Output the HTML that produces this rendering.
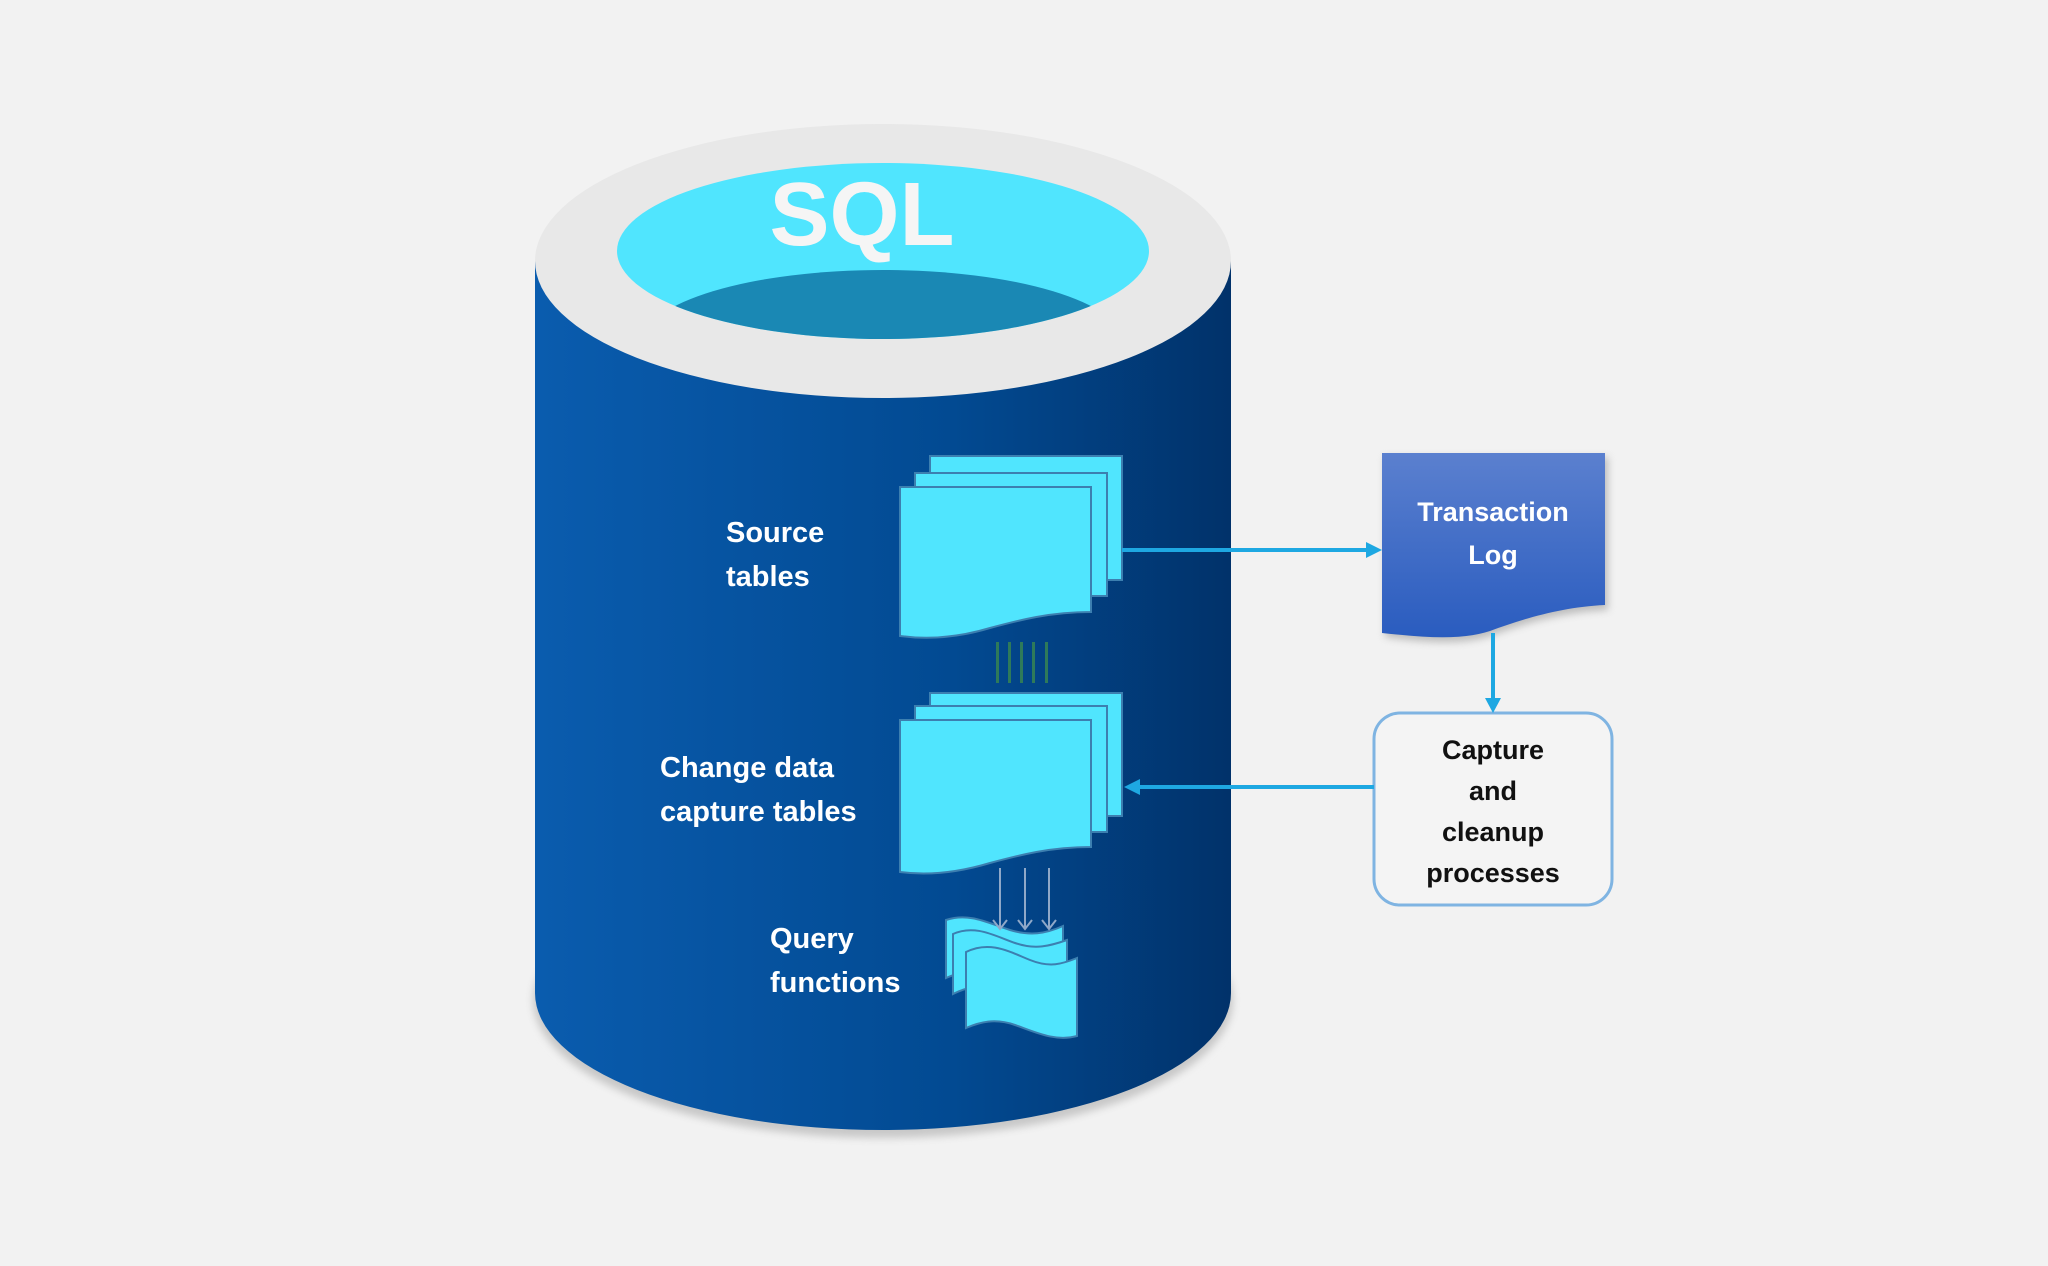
<!DOCTYPE html>
<html><head><meta charset="utf-8"><style>
html,body{margin:0;padding:0;background:#f2f2f2;}
svg{display:block}
text{font-family:"Liberation Sans","DejaVu Sans",sans-serif;font-weight:bold}
</style></head><body>
<svg width="2048" height="1266" viewBox="0 0 2048 1266" xmlns="http://www.w3.org/2000/svg">
<defs>
<linearGradient id="body" x1="0" x2="1" y1="0" y2="0">
<stop offset="0" stop-color="#0a5cae"/><stop offset="0.6" stop-color="#024a92"/><stop offset="1" stop-color="#01326a"/>
</linearGradient>
<linearGradient id="tl" x1="0" x2="0" y1="0" y2="1">
<stop offset="0" stop-color="#5b80cf"/><stop offset="1" stop-color="#2a5cbf"/>
</linearGradient>
<clipPath id="inner"><ellipse cx="883" cy="251" rx="266" ry="88"/></clipPath>
<filter id="sh" x="-10%" y="-10%" width="120%" height="120%"><feGaussianBlur stdDeviation="4"/></filter>
</defs>
<rect width="2048" height="1266" fill="#f2f2f2"/>
<ellipse cx="883" cy="1000" rx="350" ry="138" fill="#c8c8c8" filter="url(#sh)"/>
<path d="M535 261 L535 993 A348 137 0 0 0 1231 993 L1231 261 Z" fill="url(#body)"/>
<ellipse cx="883" cy="261" rx="348" ry="137" fill="#e8e8e8"/>
<ellipse cx="883" cy="251" rx="266" ry="88" fill="#50e5fe"/>
<ellipse cx="883" cy="342" rx="240" ry="72" fill="#1a88b4" clip-path="url(#inner)"/>
<text x="862" y="245" font-size="90" fill="#f5f5f5" text-anchor="middle">SQL</text>
<g fill="#50e5fe" stroke="#3c7fb0" stroke-width="2">
<rect x="930" y="456" width="192" height="124"/>
<rect x="915" y="473" width="192" height="123"/>
<path d="M900 487 L1091 487 L1091 612 C1050 612 1020 620 990 628 C960 637 930 640 900 636 Z"/>
<rect x="930" y="693" width="192" height="123"/>
<rect x="915" y="706" width="192" height="126"/>
<path d="M900 720 L1091 720 L1091 847 C1050 847 1020 855 990 863 C960 872 930 876 900 872 Z"/>
<path d="M946 920 C970 912 990 924 1010 930 C1030 936 1045 934 1063 926 L1063 982 C1040 988 1020 978 1000 972 C980 966 960 972 946 978 Z"/>
<path d="M953 934 C975 924 995 936 1015 943 C1035 950 1050 946 1067 940 L1067 998 C1045 1003 1025 994 1005 988 C985 982 965 988 953 994 Z"/>
<path d="M966 952 C990 940 1010 952 1030 960 C1050 968 1062 964 1077 958 L1077 1036 C1055 1042 1035 1032 1015 1025 C995 1018 980 1022 966 1028 Z"/>
</g>
<g fill="#2e7a5a">
<rect x="996" y="642" width="3" height="41"/><rect x="1008" y="642" width="3" height="41"/><rect x="1020" y="642" width="3" height="41"/><rect x="1032" y="642" width="3" height="41"/><rect x="1045" y="642" width="3" height="41"/>
</g>
<g stroke="#8fa8c8" stroke-width="2" fill="none">
<line x1="1000" y1="868" x2="1000" y2="928"/><line x1="1025" y1="868" x2="1025" y2="928"/><line x1="1049" y1="868" x2="1049" y2="928"/>
<path d="M993 920 L1000 929 L1007 920 M1018 920 L1025 929 L1032 920 M1042 920 L1049 929 L1056 920"/>
</g>
<g fill="#ffffff" font-size="29">
<text x="726" y="542">Source</text><text x="726" y="586">tables</text>
<text x="660" y="777">Change data</text><text x="660" y="821">capture tables</text>
<text x="770" y="948">Query</text><text x="770" y="992">functions</text>
</g>
<path d="M1385 457 L1608 457 L1608 610 C1560 612 1520 625 1490 636 C1460 646 1420 642 1385 637 Z" fill="#999" filter="url(#sh)" opacity="0.6"/>
<path d="M1382 453 L1605 453 L1605 605 C1560 607 1520 620 1490 631 C1460 641 1420 637 1382 633 Z" fill="url(#tl)"/>
<text x="1493" y="521" font-size="27" fill="#ffffff" text-anchor="middle">Transaction</text>
<text x="1493" y="564" font-size="27" fill="#ffffff" text-anchor="middle">Log</text>
<rect x="1374" y="713" width="238" height="192" rx="26" fill="#f4f4f4" stroke="#7fb4e2" stroke-width="3"/>
<g font-size="27" fill="#111" text-anchor="middle">
<text x="1493" y="759">Capture</text><text x="1493" y="800">and</text><text x="1493" y="841">cleanup</text><text x="1493" y="882">processes</text>
</g>
<g stroke="#1ea8e2" stroke-width="4" fill="#1ea8e2">
<line x1="1122" y1="550" x2="1368" y2="550"/>
<path d="M1366 542 L1382 550 L1366 558 Z" stroke="none"/>
<line x1="1493" y1="633" x2="1493" y2="700"/>
<path d="M1485 698 L1493 713 L1501 698 Z" stroke="none"/>
<line x1="1374" y1="787" x2="1138" y2="787"/>
<path d="M1140 779 L1124 787 L1140 795 Z" stroke="none"/>
</g>
</svg>
</body></html>
